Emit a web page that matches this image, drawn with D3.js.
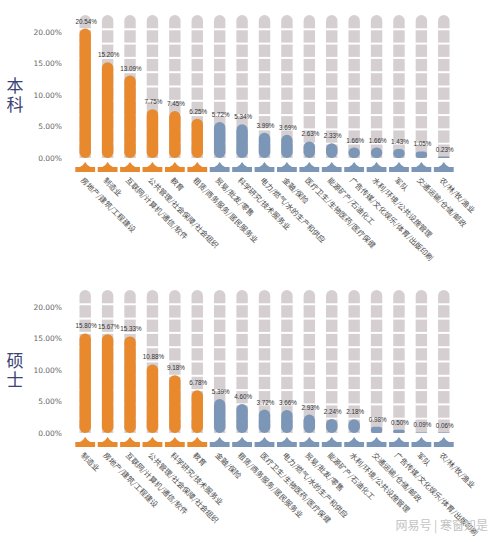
<!DOCTYPE html>
<html><head><meta charset="utf-8">
<script src="https://cdn.jsdelivr.net/npm/d3@7"></script>
<style>
html,body{margin:0;padding:0;background:#fff;}
svg{display:block;font-family:"Noto Sans CJK SC","DejaVu Sans",sans-serif;}
</style></head>
<body><svg id="c" width="500" height="542"></svg>
<script>
const catsUG = ["房地产/建筑/工程建设","制造业","互联网/计算机/通信/软件","公共管理/社会保障/社会组织","教育","租赁/商务服务/居民服务业","贸易/批发/零售","科学研究/技术服务业","电力/燃气/水的生产和供应","金融/保险","医疗卫生/生物医药/医疗保健","能源矿产/石油化工","广告传媒/文化娱乐/体育/出版印刷","水利/环境/公共设施管理","军队","交通运输/仓储/邮政","农/林/牧/渔业"];
const valsUG = [20.54,15.20,13.09,7.75,7.45,6.25,5.72,5.34,3.99,3.69,2.63,2.33,1.66,1.66,1.43,1.05,0.23];
const catsMS = ["制造业","房地产/建筑/工程建设","互联网/计算机/通信/软件","公共管理/社会保障/社会组织","科学研究/技术服务业","教育","金融/保险","租赁/商务服务/居民服务业","医疗卫生/生物医药/医疗保健","电力/燃气/水的生产和供应","贸易/批发/零售","能源矿产/石油化工","水利/环境/公共设施管理","交通运输/仓储/邮政","广告传媒/文化娱乐/体育/出版印刷","军队","农/林/牧/渔业"];
const valsMS = [15.80,15.67,15.33,10.88,9.18,6.78,5.39,4.60,3.72,3.66,2.93,2.24,2.18,0.98,0.50,0.09,0.06];
const yTicks = [0,5,10,15,20];
const panelTitles = ["本科","硕士"];
const highlightCount = 6;
const bgMax = 22.7;

const svg = d3.select("#c");
const ORANGE = "#E8892E", BLUE = "#7B96B6", BG = "#D5CFD2";

function panel(cats, vals, title, y0, y20) {
  const g = svg.append("g");
  const x = d3.scaleBand().domain(cats).range([74, 455]).paddingInner(0.49).paddingOuter(0.245);
  const y = d3.scaleLinear().domain([0, 20]).range([y0, y20]);
  const bw = x.bandwidth();
  const step = x.step();
  const data = cats.map((c, i) => ({c, v: vals[i], i}));

  g.append("g").selectAll("text").data(yTicks).join("text")
    .attr("x", 62).attr("y", d => y(d)).attr("dy", "0.35em")
    .attr("text-anchor", "end").attr("font-size", 7.5).attr("fill", "#666")
    .attr("font-family", "DejaVu Sans, sans-serif")
    .text(d => d3.format(".2f")(d) + "%");

  const top = y(bgMax), nSeg = 10, seg = (y0 - top) / nSeg;
  const bg = g.append("g");
  bg.selectAll("rect.bg").data(data).join("rect").attr("class", "bg")
    .attr("x", d => x(d.c)).attr("width", bw)
    .attr("y", top).attr("height", y0 - top)
    .attr("rx", bw / 2).attr("fill", BG);
  const seps = d3.range(1, nSeg).map(k => top + k * seg);
  data.forEach(d => {
    bg.append("g").selectAll("line").data(seps).join("line")
      .attr("x1", x(d.c) - 1).attr("x2", x(d.c) + bw + 1)
      .attr("y1", s => s).attr("y2", s => s)
      .attr("stroke", "#fff").attr("stroke-width", 2);
  });
  bg.selectAll("rect.bgb").data(data).join("rect").attr("class", "bgb")
    .attr("x", d => x(d.c)).attr("width", bw)
    .attr("y", y0 - seg + 1).attr("height", seg - 1).attr("fill", BG);

  const col = d => d.i < highlightCount ? ORANGE : BLUE;

  g.append("g").selectAll("rect").data(data).join("rect")
    .attr("x", d => x(d.c)).attr("width", bw)
    .attr("y", d => y(d.v)).attr("height", d => y0 - y(d.v))
    .attr("rx", d => Math.min(bw / 2, (y0 - y(d.v)) / 2))
    .attr("fill", col);

  g.append("g").selectAll("text").data(data).join("text")
    .attr("x", d => x(d.c) + bw / 2 + 1).attr("y", d => y(d.v) - 5)
    .attr("text-anchor", "middle").attr("font-size", 6.3).attr("fill", "#333")
    .attr("font-family", "Liberation Sans, Arial, sans-serif")
    .text(d => d3.format(".2f")(d.v) + "%");

  const bases = g.append("g");
  bases.selectAll("rect").data(data).join("rect")
    .attr("x", d => x(d.c) + bw / 2 - step / 2 + 1.3).attr("width", step - 2.6)
    .attr("y", y0 + 9).attr("height", 5).attr("fill", col);
  bases.selectAll("path").data(data).join("path")
    .attr("d", d => {
      const cx = x(d.c) + bw / 2;
      return `M${cx - 6},${y0 + 9.5} Q${cx - 2},${y0 + 8} ${cx},${y0 + 4} Q${cx + 2},${y0 + 8} ${cx + 6},${y0 + 9.5} Z`;
    })
    .attr("fill", col);

  g.append("g").selectAll("text").data(data).join("text")
    .attr("transform", d => `translate(${x(d.c) + bw / 2 - 3},${y0 + 21}) rotate(45)`)
    .attr("dy", "0.35em").attr("font-size", 7.5).attr("fill", "#4a4a4a")
    .text(d => d.c);

  // panel title: vertical writing, single text
  const mid = (y0 + y20) / 2;
  g.append("text").attr("x", 15).attr("y", mid - 18)
    .style("writing-mode", "vertical-rl").style("letter-spacing", "2px")
    .attr("font-size", 17).attr("fill", "#3A4474")
    .text(title);
}

panel(catsUG, valsUG, panelTitles[0], 158, 32);
panel(catsMS, valsMS, panelTitles[1], 433, 307);

svg.append("text").attr("x", 488).attr("y", 530).attr("text-anchor", "end")
  .attr("font-size", 12).attr("fill", "#c4c4c4").text("网易号 | 寒窗知是");
</script></body></html>
